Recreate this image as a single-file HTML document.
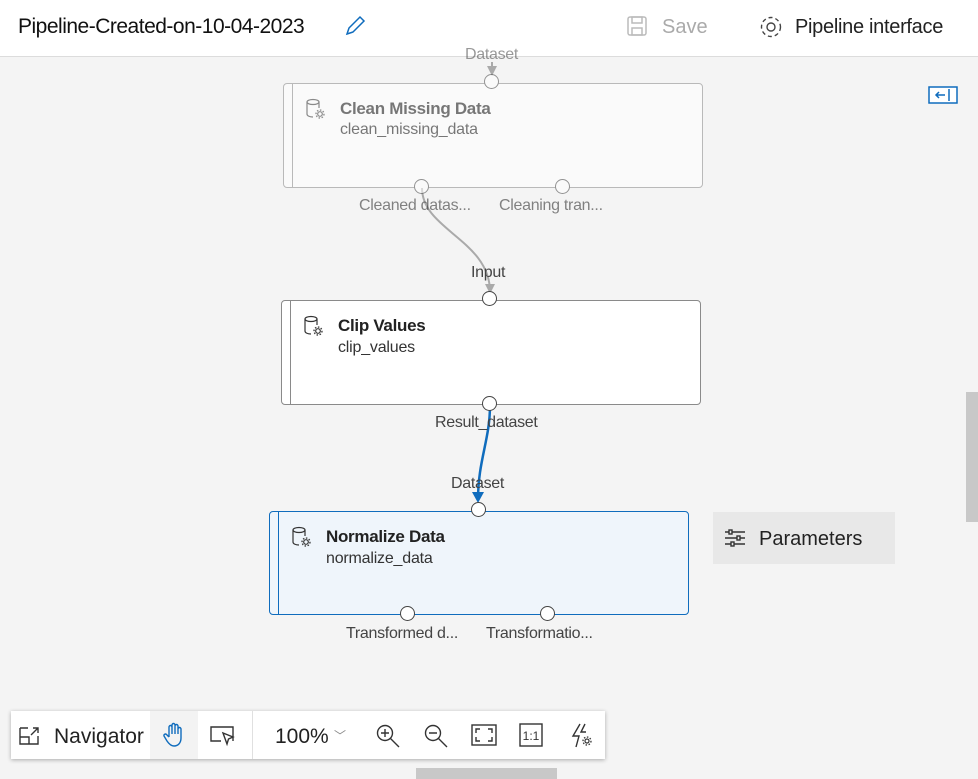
<!DOCTYPE html><html><head><style>
body{margin:0;width:978px;height:779px;overflow:hidden;background:#f4f4f4;font-family:"Liberation Sans",sans-serif;position:relative}
.a{position:absolute}
.hdr{left:0;top:0;width:978px;height:56px;background:#fff;border-bottom:1px solid #dcdcdc}
.node{position:absolute;background:#fff;border:1px solid #8a8a8a;border-radius:4px;box-sizing:border-box}
.node .bar{position:absolute;left:8px;top:0;bottom:0;border-left:1px solid #8a8a8a}
.t{position:absolute;font-size:17px;font-weight:bold;color:#222;letter-spacing:-0.3px}
.s{position:absolute;font-size:16px;color:#333;letter-spacing:-0.2px}
.lbl{position:absolute;font-size:16px;color:#444;white-space:nowrap;letter-spacing:-0.3px}
.port{position:absolute;width:15px;height:15px;border:1.3px solid #444;border-radius:50%;background:#fff;box-sizing:border-box}
</style></head><body>
<div class="a hdr"></div>
<div class="a" style="left:18px;top:15px;font-size:21px;color:#111;letter-spacing:-0.5px">Pipeline-Created-on-10-04-2023</div>
<svg class="a" style="left:343px;top:14px" width="24" height="24"><path d="M4 20 L6 14 L17 3 L21 7 L10 18 Z M4 20 L10 18" fill="none" stroke="#0f6cbd" stroke-width="1.5"/></svg>
<svg class="a" style="left:626px;top:15px" width="22" height="22"><rect x="2" y="2" width="18" height="18" rx="2" fill="none" stroke="#bbb" stroke-width="1.5"/><rect x="6" y="2" width="10" height="6" fill="none" stroke="#bbb" stroke-width="1.5"/><rect x="6" y="13" width="10" height="7" fill="none" stroke="#bbb" stroke-width="1.5"/></svg>
<div class="a" style="left:662px;top:16px;font-size:20px;color:#aaa">Save</div>
<svg class="a" style="left:758px;top:14px" width="26" height="26" viewBox="0 0 26 26"><circle cx="13" cy="13" r="4" fill="none" stroke="#444" stroke-width="1.4"/><path d="M11 2h4l1 3 3 1.5 3-1.5 2.5 2.5-1.5 3 1.5 3 3 1v4l-3 1-1.5 3 1.5 3-2.5 2.5" fill="none" stroke="#444" stroke-width="0"/><circle cx="13" cy="13" r="9.5" fill="none" stroke="#444" stroke-width="1.4" stroke-dasharray="4 3"/></svg>
<div class="a" style="left:795px;top:16px;font-size:20px;color:#222;letter-spacing:-0.3px">Pipeline interface</div>
<svg class="a" style="left:928px;top:86px" width="30" height="18"><rect x="1" y="1" width="28" height="16" fill="#fff" stroke="#0f6cbd" stroke-width="1.5"/><line x1="21" y1="3" x2="21" y2="15" stroke="#0f6cbd" stroke-width="1.5"/><path d="M17 9 H8 M11 6 L8 9 L11 12" stroke="#0f6cbd" stroke-width="1.5" fill="none"/></svg>

<svg class="a" style="left:0;top:0" width="978" height="779">
<path d="M422 188 C422 230 490 240 490 292" stroke="#aaa" stroke-width="2" fill="none"/>
<path d="M485 284 L490 294 L495 284 Z" fill="#aaa"/>
<line x1="492" y1="62" x2="492" y2="74" stroke="#aaa" stroke-width="2"/><path d="M487 66 L492 76 L497 66Z" fill="#aaa"/>
<path d="M490 405 C490 440 478 460 478 500" stroke="#0f6cbd" stroke-width="2.5" fill="none"/>
<path d="M472 492 L478 503 L484 492 Z" fill="#0f6cbd"/>
</svg>

<svg width="0" height="0" style="position:absolute"><defs><g id="ic"><ellipse cx="8" cy="4" rx="6" ry="2.5" fill="none" stroke="#333" stroke-width="1.2"/><path d="M2 4 V16 C2 18 5 19 8 19 M14 4 V10" fill="none" stroke="#333" stroke-width="1.2"/><circle cx="15" cy="16" r="2.3" fill="none" stroke="#333" stroke-width="1.2"/><circle cx="15" cy="16" r="4" fill="none" stroke="#333" stroke-width="1.3" stroke-dasharray="1.5 1.6"/></g></defs></svg>

<div style="opacity:.55">
<div class="lbl" style="left:465px;top:46px">Dataset</div>
<div class="node" style="left:283px;top:83px;width:420px;height:105px"><div class="bar"></div></div>
<svg class="a" style="left:305px;top:98px" width="22" height="22"><use href="#ic"/></svg>
<div class="t" style="left:340px;top:99px;color:#111">Clean Missing Data</div>
<div class="s" style="left:340px;top:121px;color:#111">clean_missing_data</div>
<div class="lbl" style="left:359px;top:197px;color:#222">Cleaned datas...</div>
<div class="lbl" style="left:499px;top:197px;color:#222">Cleaning tran...</div>
<div class="port" style="left:414px;top:179px"></div><div class="port" style="left:555px;top:179px"></div>
<div class="port" style="left:484px;top:74px"></div>
</div>

<div class="lbl" style="left:471px;top:264px">Input</div>
<div class="node" style="left:281px;top:300px;width:420px;height:105px"><div class="bar"></div></div>
<svg class="a" style="left:303px;top:315px" width="22" height="22"><use href="#ic"/></svg>
<div class="t" style="left:338px;top:316px">Clip Values</div>
<div class="s" style="left:338px;top:339px">clip_values</div>
<div class="port" style="left:482px;top:291px"></div><div class="port" style="left:482px;top:396px"></div>
<div class="lbl" style="left:435px;top:414px">Result_dataset</div>

<div class="lbl" style="left:451px;top:475px">Dataset</div>
<div class="node" style="left:269px;top:511px;width:420px;height:104px;background:#eff5fb;border-color:#0f6cbd"><div class="bar" style="border-color:#0f6cbd"></div></div>
<svg class="a" style="left:291px;top:526px" width="22" height="22"><use href="#ic"/></svg>
<div class="t" style="left:326px;top:527px">Normalize Data</div>
<div class="s" style="left:326px;top:550px">normalize_data</div>
<div class="port" style="left:471px;top:502px"></div>
<div class="port" style="left:400px;top:606px"></div><div class="port" style="left:540px;top:606px"></div>
<div class="lbl" style="left:346px;top:625px">Transformed d...</div>
<div class="lbl" style="left:486px;top:625px">Transformatio...</div>

<div class="a" style="left:713px;top:512px;width:182px;height:52px;background:#e8e8e8"></div>
<svg class="a" style="left:724px;top:528px" width="22" height="20"><g stroke="#333" stroke-width="1.4"><line x1="1" y1="4" x2="21" y2="4"/><line x1="1" y1="10" x2="21" y2="10"/><line x1="1" y1="16" x2="21" y2="16"/></g><g fill="#e8e8e8" stroke="#333" stroke-width="1.4"><rect x="5" y="2" width="3" height="4"/><rect x="13" y="8" width="3" height="4"/><rect x="7" y="14" width="3" height="4"/></g></svg>
<div class="a" style="left:759px;top:528px;font-size:20px;color:#222">Parameters</div>

<div class="a" style="left:966px;top:392px;width:12px;height:130px;background:#c8c8c8"></div>
<div class="a" style="left:416px;top:768px;width:141px;height:11px;background:#c8c8c8"></div>

<div class="a" style="left:11px;top:711px;width:594px;height:48px;background:#fff;box-shadow:0 1px 4px rgba(0,0,0,.3)"></div>
<div class="a" style="left:150px;top:711px;width:48px;height:48px;background:#f3f3f3"></div>
<div class="a" style="left:252px;top:711px;width:1px;height:48px;background:#e0e0e0"></div>
<svg class="a" style="left:18px;top:724px" width="24" height="24"><path d="M2 4 H10 M2 4 V20 H20 V12 M2 13 H11 V20 M13 11 L20 4 M15 4 H20 V9" stroke="#333" stroke-width="1.4" fill="none"/></svg>
<div class="a" style="left:54px;top:725px;font-size:21px;color:#222">Navigator</div>
<svg class="a" style="left:162px;top:722px" width="24" height="26"><path d="M7 15 V5 a1.5 1.5 0 0 1 3 0 V12 V3 a1.5 1.5 0 0 1 3 0 V12 V4 a1.5 1.5 0 0 1 3 0 V12 V7 a1.5 1.5 0 0 1 3 0 V16 C19 21 16 24 12 24 C9 24 7 22 5 19 L2 14 a1.5 1.5 0 0 1 2.5 -1.5 L7 15" fill="none" stroke="#0f6cbd" stroke-width="1.4"/></svg>
<svg class="a" style="left:209px;top:724px" width="28" height="24"><path d="M12 17 H2 V3 H24 V17 M14 9 L18 20 L19.5 15 L24 13 Z" stroke="#333" stroke-width="1.4" fill="none"/></svg>
<div class="a" style="left:275px;top:725px;font-size:21px;color:#222">100%</div>
<div class="a" style="left:334px;top:727px;font-size:12px;color:#888">﹀</div>
<svg class="a" style="left:374px;top:722px" width="28" height="28"><circle cx="11" cy="11" r="7.5" stroke="#333" stroke-width="1.4" fill="none"/><path d="M16.5 16.5 L25 25 M7 11 H15 M11 7 V15" stroke="#333" stroke-width="1.4"/></svg>
<svg class="a" style="left:422px;top:722px" width="28" height="28"><circle cx="11" cy="11" r="7.5" stroke="#333" stroke-width="1.4" fill="none"/><path d="M16.5 16.5 L25 25 M7 11 H15" stroke="#333" stroke-width="1.4"/></svg>
<svg class="a" style="left:471px;top:724px" width="26" height="22"><rect x="1" y="1" width="24" height="20" stroke="#333" stroke-width="1.4" fill="none"/><path d="M5 9 V5 H9 M17 5 H21 V9 M21 13 V17 H17 M9 17 H5 V13" stroke="#333" stroke-width="1.4" fill="none"/></svg>
<svg class="a" style="left:519px;top:723px" width="26" height="26"><rect x="1" y="1" width="22" height="22" stroke="#333" stroke-width="1.4" fill="none"/><text x="12" y="17" font-size="12" text-anchor="middle" fill="#333" font-family="Liberation Sans">1:1</text></svg>
<svg class="a" style="left:569px;top:722px" width="26" height="28"><path d="M11 2 L4 14 H10 L7 25 M16 2 L12 10 H17" fill="none" stroke="#333" stroke-width="1.4"/><circle cx="18" cy="19" r="2" fill="none" stroke="#333" stroke-width="1.2"/><circle cx="18" cy="19" r="4" fill="none" stroke="#333" stroke-width="1.3" stroke-dasharray="1.5 1.6"/></svg>
</body></html>
